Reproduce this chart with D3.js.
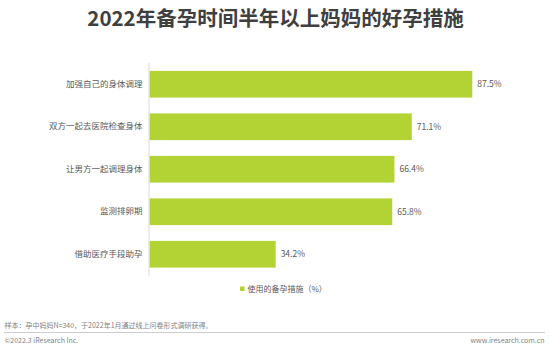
<!DOCTYPE html>
<html><head><meta charset="utf-8">
<script src="https://cdn.jsdelivr.net/npm/d3@7"></script>
<style>
html,body{margin:0;padding:0;background:#fff;}
svg{display:block;font-family:"Noto Sans CJK SC","Noto Sans",sans-serif;}
</style></head>
<body>
<svg id="c" width="549" height="351"></svg>
<script>
const title = "2022年备孕时间半年以上妈妈的好孕措施";
const categories = ["加强自己的身体调理","双方一起去医院检查身体","让男方一起调理身体","监测排卵期","借助医疗手段助孕"];
const values = [87.5, 71.1, 66.4, 65.8, 34.2];
const seriesName = "使用的备孕措施（%）";
const note = "样本：孕中妈妈N=340，于2022年1月通过线上问卷形式调研获得。";
const copyright = "©2022.3 iResearch Inc.";
const website = "www.iresearch.com.cn";

const svg = d3.select("#c");
const green = "#b3d234";

svg.append("text").attr("x", 275.5).attr("y", 25.5).attr("text-anchor", "middle")
  .attr("font-size", 20.5).attr("font-weight", "bold").attr("fill", "#3f3f3f").text(title);

const x = d3.scaleLinear().domain([0, 100]).range([149.5, 518.4]);
const y = d3.scaleBand().domain(categories).range([63, 275.5]).paddingInner(0.372).paddingOuter(0.186);

svg.selectAll("rect.bar").data(values).join("rect").attr("class", "bar")
  .attr("x", x(0)).attr("y", (d, i) => y(categories[i]))
  .attr("width", d => x(d) - x(0)).attr("height", y.bandwidth()).attr("fill", green);

const axis = svg.append("g").attr("transform", `translate(${x(0) - 0.5},0)`)
  .call(d3.axisLeft(y).tickSize(0).tickPadding(6.5));
axis.select(".domain").attr("stroke", "#d9d9d9").attr("d", `M0,63V275.5`);
axis.selectAll("text").attr("font-size", 8.5).attr("fill", "#595959")
  .attr("font-family", '"Noto Sans CJK SC",sans-serif');

svg.selectAll("text.val").data(values).join("text").attr("class", "val")
  .attr("x", d => x(d) + 5).attr("y", (d, i) => y(categories[i]) + y.bandwidth() / 2)
  .attr("dy", "0.35em").attr("font-size", 8.5).attr("fill", "#595959")
  .text(d => d.toFixed(1) + "%");

// legend
svg.append("rect").attr("x", 240).attr("y", 286.5).attr("width", 4.5).attr("height", 4.5).attr("fill", green);
svg.append("text").attr("x", 247.5).attr("y", 289).attr("dy", "0.35em").attr("font-size", 8)
  .attr("fill", "#595959").text(seriesName);

// footer
svg.append("text").attr("x", 4.5).attr("y", 326).attr("dy", "0.35em").attr("font-size", 7)
  .attr("fill", "#7f7f7f").text(note);
svg.append("line").attr("x1", 4).attr("x2", 545).attr("y1", 332.5).attr("y2", 332.5)
  .attr("stroke", "#cccccc").attr("stroke-width", 1);
svg.append("text").attr("x", 4.5).attr("y", 341).attr("dy", "0.35em").attr("font-size", 7)
  .attr("fill", "#7f7f7f").text(copyright);
svg.append("text").attr("x", 544.5).attr("y", 341).attr("dy", "0.35em").attr("font-size", 7)
  .attr("text-anchor", "end").attr("fill", "#7f7f7f").text(website);
</script>
</body></html>
